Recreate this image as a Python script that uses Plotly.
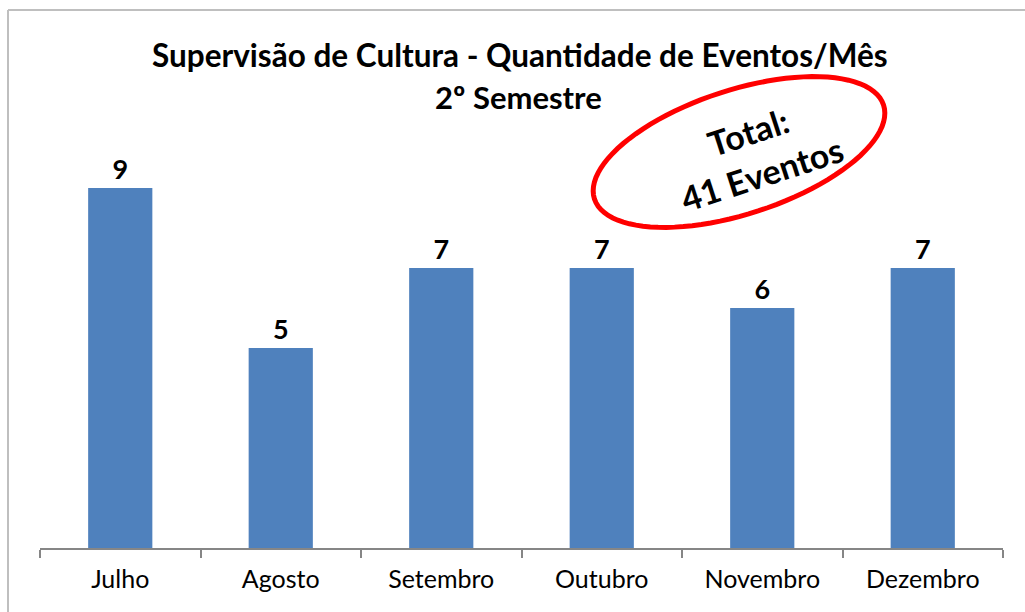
import math
import plotly.graph_objects as go

months = ["Julho", "Agosto", "Setembro", "Outubro", "Novembro", "Dezembro"]
eventos = [9, 5, 7, 7, 6, 7]
title_line1 = "Supervisão de Cultura - Quantidade de Eventos/Mês"
title_line2 = "2º Semestre"
total_text = "Total:<br>41 Eventos"

W, H = 1025, 612
L, R, T, B = 40, 22, 148, 64
pw, ph = W - L - R, H - T - B

def px2paper(x, y):
    return (x - L) / pw, (H - B - y) / ph

FONT = "Lato, 'Open Sans', sans-serif"

fig = go.Figure(go.Bar(
    x=months, y=eventos,
    marker=dict(color="#4F81BD", line=dict(width=0)),
    width=0.4,
    text=[str(v) for v in eventos],
    textposition="outside",
    textfont=dict(family=FONT, size=27, color="#000000", weight="bold"),
    cliponaxis=False,
))

# red ellipse (decoration) in pixel space -> paper coordinates
cx, cy, a, b, ang = 739, 152, 152, 62, math.radians(-18)
pts = []
for i in range(97):
    t = 2 * math.pi * i / 96
    ex, ey = a * math.cos(t), b * math.sin(t)
    x = cx + ex * math.cos(ang) - ey * math.sin(ang)
    y = cy + ex * math.sin(ang) + ey * math.cos(ang)
    pts.append(px2paper(x, y))
path = "M " + " L ".join(f"{p[0]:.5f},{p[1]:.5f}" for p in pts) + " Z"

bx0, by0 = px2paper(8, 10)
bx1, by1 = px2paper(1030, 620)

def ann(text, x, y, size, angle=0):
    px, py = px2paper(x, y)
    return dict(text=text, xref="paper", yref="paper", x=px, y=py,
                xanchor="center", yanchor="middle", showarrow=False,
                align="center", textangle=angle,
                font=dict(family=FONT, size=size, color="#000000", weight="bold"))

fig.update_layout(
    width=W, height=H,
    margin=dict(l=L, r=R, t=T, b=B),
    paper_bgcolor="white", plot_bgcolor="white",
    showlegend=False,
    xaxis=dict(
        showline=True, linecolor="#868686", linewidth=1.5,
        ticks="outside", ticklen=8, tickcolor="#868686", tickwidth=1.5,
        tickson="boundaries", ticklabelstandoff=8,
        tickfont=dict(family=FONT, size=25, color="#000000"),
        showgrid=False,
    ),
    yaxis=dict(range=[0, 10], visible=False, showgrid=False),
    shapes=[
        dict(type="line", xref="paper", yref="paper", x0=bx0, y0=by0, x1=bx1, y1=by0,
             line=dict(color="#BFBFBF", width=2)),
        dict(type="line", xref="paper", yref="paper", x0=bx0, y0=by0, x1=bx0, y1=by1,
             line=dict(color="#BFBFBF", width=2)),
        dict(type="path", xref="paper", yref="paper", path=path,
             line=dict(color="#FF0000", width=5)),
    ],
    annotations=[
        ann(title_line1, 520, 55, 31.5),
        ann(title_line2, 518, 97, 31),
        ann(total_text, 755, 153, 34, -18),
    ],
)

fig.write_html("out.html", config={"displayModeBar": False},
               post_script="document.body.style.margin='0';")
